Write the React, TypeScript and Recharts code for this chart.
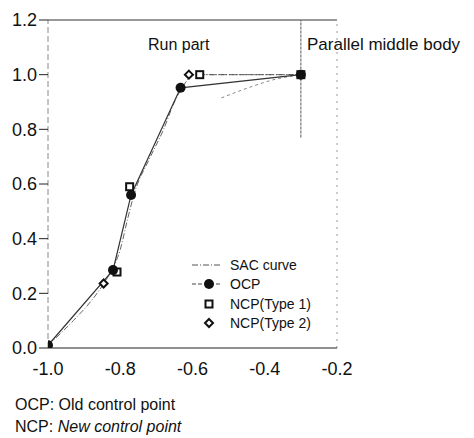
import React from 'react';
import {
  ComposedChart,
  Line,
  Scatter,
  XAxis,
  YAxis,
  ReferenceLine,
} from 'recharts';

// SAC curve
const sacX = [-1.0, -0.93, -0.87, -0.83, -0.8, -0.78, -0.76, -0.72, -0.68, -0.65, -0.62, -0.6, -0.3];
const sacY = [0.01, 0.1, 0.19, 0.27, 0.36, 0.47, 0.57, 0.69, 0.8, 0.9, 0.97, 1.0, 1.0];

// faint second curve near the parallel middle body
const tailX = [-0.52, -0.45, -0.38, -0.3];
const tailY = [0.915, 0.95, 0.98, 1.0];

// old control points
const ocpX = [-1.0, -0.82, -0.77, -0.633, -0.3];
const ocpY = [0.01, 0.285, 0.56, 0.952, 1.0];

// new control points, type 1
const ncp1X = [-0.809, -0.774, -0.58, -0.3];
const ncp1Y = [0.278, 0.59, 1.0, 1.0];

// new control points, type 2
const ncp2X = [-0.846, -0.61];
const ncp2Y = [0.236, 1.0];

const xTicks = [-1.0, -0.8, -0.6, -0.4, -0.2];
const yTicks = [0.0, 0.2, 0.4, 0.6, 0.8, 1.0, 1.2];

const legendLabels = ['SAC curve', 'OCP', 'NCP(Type 1)', 'NCP(Type 2)'];

const zip = (xs: number[], ys: number[]) => xs.map((x, i) => ({ x, y: ys[i] }));

const sacData = zip(sacX, sacY);
const tailData = zip(tailX, tailY);
const ocpData = zip(ocpX, ocpY);
const ncp1Data = zip(ncp1X, ncp1Y);
const ncp2Data = zip(ncp2X, ncp2Y);

const font = '"Liberation Sans", Arial, sans-serif';
const ink = '#111';

const Circle = (p: any) => <circle cx={p.cx} cy={p.cy} r={5} fill={ink} />;
const Square = (p: any) => (
  <rect x={p.cx - 3.5} y={p.cy - 3.5} width={7} height={7} fill="#fff" stroke={ink} strokeWidth={2} />
);
const Diamond = (p: any) => (
  <path
    d={`M${p.cx},${p.cy - 4} L${p.cx + 4},${p.cy} L${p.cx},${p.cy + 4} L${p.cx - 4},${p.cy} Z`}
    fill="#fff"
    stroke={ink}
    strokeWidth={2}
  />
);

function LegendBox() {
  return (
    <div
      style={{
        position: 'absolute',
        left: 190,
        top: 255,
        fontFamily: font,
        fontSize: 14,
        color: ink,
      }}
    >
      {legendLabels.map((label, i) => (
        <div key={label} style={{ display: 'flex', alignItems: 'center', height: 19.5 }}>
          <svg width={36} height={16}>
            {i === 0 && (
              <line x1={2} y1={8} x2={32} y2={8} stroke="#555" strokeWidth={1} strokeDasharray="6 2 1 2" />
            )}
            {i === 1 && (
              <>
                <line x1={2} y1={8} x2={32} y2={8} stroke="#444" strokeWidth={1} strokeDasharray="4 2" />
                <circle cx={19} cy={8} r={5} fill={ink} />
              </>
            )}
            {i === 2 && <Square cx={19} cy={8} />}
            {i === 3 && <Diamond cx={19} cy={8} />}
          </svg>
          <span style={{ marginLeft: 4 }}>{label}</span>
        </div>
      ))}
    </div>
  );
}

export default function App() {
  return (
    <div style={{ position: 'absolute', left: 0, top: 0, width: 474, height: 438, background: '#fff' }}>
      <ComposedChart
        width={474}
        height={438}
        margin={{ top: 20, right: 137, bottom: 60, left: 0 }}
      >
        <XAxis
          type="number"
          dataKey="x"
          domain={[-1.0, -0.2]}
          ticks={xTicks}
          allowDataOverflow
          tickFormatter={(v: number) => v.toFixed(1)}
          tick={{ fontSize: 18, fill: ink, fontFamily: font }}
          tickLine={false}
          axisLine={{ stroke: '#222', strokeWidth: 1.2 }}
          tickMargin={8}
          height={30}
        />
        <YAxis
          type="number"
          dataKey="y"
          domain={[0, 1.2]}
          ticks={yTicks}
          allowDataOverflow
          tickFormatter={(v: number) => v.toFixed(1)}
          tick={{ fontSize: 18, fill: ink, fontFamily: font }}
          tickLine={{ stroke: '#222' }}
          tickSize={9}
          axisLine={false}
          width={48}
        />
        <ReferenceLine x={-1.0} stroke="#888" strokeDasharray="6 3" ifOverflow="visible" />
        <ReferenceLine x={-0.2} stroke="#999" strokeDasharray="2 5" ifOverflow="visible" />
        <ReferenceLine y={1.2} stroke="#333" ifOverflow="visible" />
        <ReferenceLine
          segment={[{ x: -0.3, y: 0.77 }, { x: -0.3, y: 1.2 }]}
          stroke="#555"
          strokeDasharray="3 1"
          ifOverflow="visible"
        />
        <Line
          data={sacData}
          dataKey="y"
          type="monotone"
          stroke="#666"
          strokeWidth={1}
          strokeDasharray="6 2 1 2"
          dot={false}
          isAnimationActive={false}
          legendType="none"
        />
        <Line
          data={tailData}
          dataKey="y"
          type="monotone"
          stroke="#888"
          strokeWidth={1}
          strokeDasharray="3 3"
          dot={false}
          isAnimationActive={false}
          legendType="none"
        />
        <Line
          data={ocpData}
          dataKey="y"
          type="linear"
          stroke="#333"
          strokeWidth={1.2}
          dot={false}
          isAnimationActive={false}
          legendType="none"
        />
        <Line
          data={[ncp2Data[1], ncp1Data[2], ncp1Data[3]]}
          dataKey="y"
          type="linear"
          stroke="#555"
          strokeWidth={1}
          strokeDasharray="5 2 1 2"
          dot={false}
          isAnimationActive={false}
          legendType="none"
        />
        <Scatter data={ncp2Data} dataKey="y" shape={Diamond} isAnimationActive={false} legendType="none" />
        <Scatter data={ncp1Data} dataKey="y" shape={Square} isAnimationActive={false} legendType="none" />
        <Scatter data={ocpData} dataKey="y" shape={Circle} isAnimationActive={false} legendType="none" />
      </ComposedChart>
      <LegendBox />
      <div style={{ position: 'absolute', left: 148, top: 36, fontFamily: font, fontSize: 16, color: ink }}>
        Run part
      </div>
      <div style={{ position: 'absolute', left: 307, top: 35, fontFamily: font, fontSize: 17, color: ink }}>
        Parallel middle body
      </div>
      <div style={{ position: 'absolute', left: 15, top: 396, fontFamily: font, fontSize: 16, color: ink }}>
        OCP: Old control point
      </div>
      <div style={{ position: 'absolute', left: 15, top: 418, fontFamily: font, fontSize: 16, color: ink }}>
        NCP: <i>New control point</i>
      </div>
    </div>
  );
}
